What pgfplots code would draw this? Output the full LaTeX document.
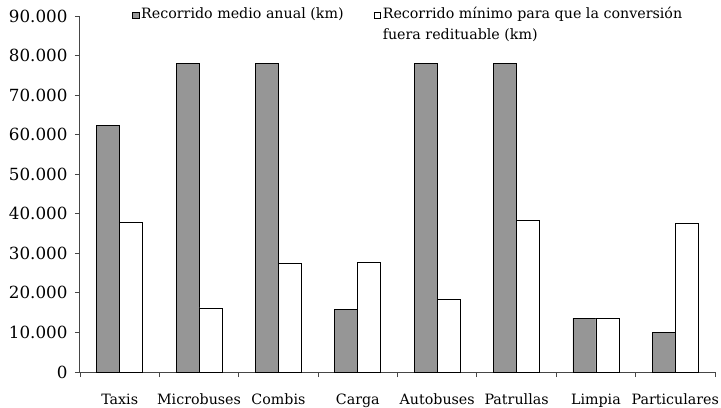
\documentclass[border=0pt]{standalone}
\usepackage{pgfplots}
\pgfplotsset{compat=1.18}
\usepackage{fontspec}
\setmainfont{DejaVu Serif}
\definecolor{barGray}{RGB}{150,150,150}
\definecolor{axGray}{RGB}{70,70,70}
\begin{document}
\begin{tikzpicture}
\begin{axis}[
  name=A,
  scale only axis,
  width=635bp, height=356bp,
  xmin=-0.5, xmax=7.5,
  ymin=0, ymax=90000,
  axis lines=left,
  axis line style={-, axGray, line width=1bp},
  ybar=0pt, bar width=23bp,
  xtick={0,...,7},
  xticklabels={Taxis,Microbuses,Combis,Carga,Autobuses,Patrullas,Limpia,Particulares},
  minor xtick={-0.5,0.5,...,7.5},
  major x tick style={draw=none},
  minor x tick style={axGray, line width=0.8bp},
  minor tick length=5bp,
  ytick={0,10000,...,90000},
  scaled y ticks=false,
  major tick length=5bp,
  y tick style={axGray, line width=0.8bp},
  tick align=outside,
  x tick label style={font=\fontsize{14.3}{17}\selectfont, yshift=-13bp, text depth=0pt},
  y tick label style={font=\fontsize{16.8}{19}\selectfont, xshift=-4bp},
  /pgf/number format/.cd, assume math mode=true, 1000 sep={.}, set thousands separator={.},
  /pgfplots/.cd,
  legend columns=2,
  legend style={draw=none, fill=none, at={(rel axis cs:0.077,1.045)}, anchor=north west,
    font=\fontsize{14.3}{21}\selectfont, cells={anchor=base west},
    /tikz/every even column/.append style={column sep=28bp}},
  legend image code/.code={\draw[#1, line width=0.6bp] (0bp,0.5bp) rectangle (6.5bp,7bp);},
]
\addplot[fill=barGray, draw=black, line width=0.8bp] coordinates {
  (0,62300) (1,78000) (2,78000) (3,15900) (4,78000) (5,78000) (6,13600) (7,10000)};
\addplot[fill=white, draw=black, line width=0.8bp] coordinates {
  (0,37700) (1,16200) (2,27500) (3,27800) (4,18400) (5,38200) (6,13600) (7,37600)};
\legend{Recorrido medio anual (km),{\begin{tabular}[t]{@{}l@{}}Recorrido mínimo para que la conversión\\fuera redituable (km)\end{tabular}}}
\end{axis}
\pgfresetboundingbox
\path[use as bounding box] ([xshift=-80bp,yshift=-36bp]A.south west) rectangle ([xshift=6bp,yshift=16bp]A.north east);
\end{tikzpicture}
\end{document}
